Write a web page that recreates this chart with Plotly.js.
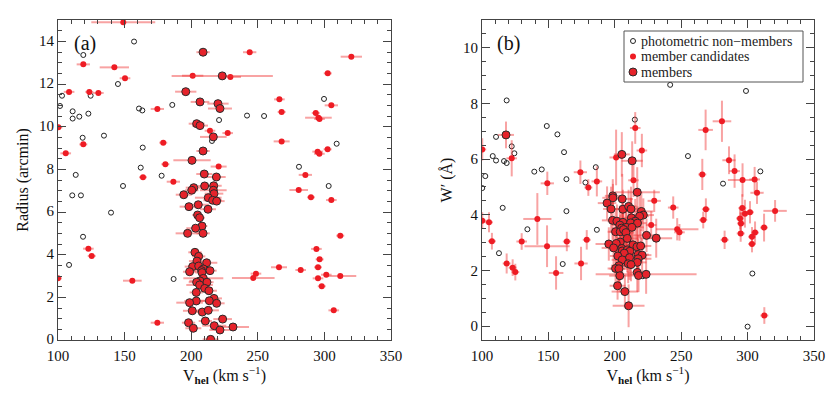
<!DOCTYPE html>
<html>
<head>
<meta charset="utf-8">
<script src="https://cdn.plot.ly/plotly-3.0.1.min.js"></script>
<style>html,body{margin:0;padding:0;background:#fff;}#chart{width:830px;height:401px;}</style>
</head>
<body>
<div id="chart"></div>
<script>
// ---------- Panel (a): Radius vs V_hel ----------
const nonMemV_a = [157.1,119,145,103,124.5,101.5,111,111,116,122.8,160.8,163.3,185.8,134.5,118.5,163.6,220.9,241.9,215.6,162.1,177.8,113.3,148.8,110.7,117.2,139.8,118.8,108.3,186.8,299.7,254.7,309.2,280.9,303.2];
const nonMemR_a = [13.99,13.36,12.0,11.45,11.45,10.97,10.72,10.38,10.47,10.61,10.85,10.76,11.02,9.58,9.48,9.02,10.31,10.52,9.33,8.08,7.70,7.74,7.22,6.78,6.78,5.97,4.84,3.52,2.86,11.3,10.5,9.2,8.12,7.22];

const candV_a = [149,119,142.3,150.3,108.3,123.5,130.3,100.3,105.8,119,174.6,179,180.6,201.1,229.4,214.1,227.4,220.6,163.8,186.6,122.8,125.3,100,155.8,174.6,243.9,320.2,302.5,266.2,305.2,267.9,293.5,295.5,296.3,267.9,302.4,294.9,296.2,285.7,280.7,289.9,305.2,311.9,294.0,296.4,265.9,282.2,295.2,248.6,246.6,301.4,311.9,295.2,298.0,307.0];
const candR_a = [14.89,12.92,12.78,12.27,11.63,11.63,11.58,9.97,8.75,9.17,10.83,9.25,8.24,12.39,12.33,9.81,9.70,8.13,7.63,7.42,4.28,3.94,2.89,2.78,0.81,13.49,13.28,12.5,11.28,11.0,10.69,10.64,10.42,10.36,9.31,8.94,8.83,8.73,7.74,7.03,6.69,6.56,4.89,4.27,3.78,3.41,3.28,3.41,3.11,2.91,3.06,3.0,2.89,2.52,1.39];
const candErrV_a = [24,5,11,4,4,3,4,3,4,3,5,3,3,8,8,4,4,6,3,5,4,3,3,7,5,5,8,3,4,5,3,3,10,4,6,3,4,4,5,7,3,4,3,4,3,6,4,3,4,16,4,12,4,3,4];

const memV_a = [208.9,223.3,195.9,206.6,220.1,221.6,204.1,206.6,216.6,208.9,200.6,209.8,218.9,210.1,201.9,200.4,216.9,216.6,217.1,194.4,212.8,216.1,219.1,205.3,198.3,212.6,204.8,206.3,208.1,203.3,197.3,208.9,202.8,205.6,204.3,211.6,201.1,205.6,209.1,207.8,214.1,198.8,208.1,209.1,206.6,204.1,211.8,206.3,210.1,213.3,203.8,217.1,213.6,203.8,198.8,219.1,200.8,208.3,212.8,223.6,210.6,198.0,217.3,231.4,201.6,221.6,214.6];
const memR_a = [13.49,12.38,11.64,11.16,11.08,10.85,10.14,10.05,9.52,8.86,8.42,7.78,7.64,7.22,7.14,7.02,7.23,7.02,6.86,6.81,6.67,6.55,6.51,6.34,6.25,6.13,5.86,5.73,5.34,5.24,5.00,5.00,4.11,3.92,3.70,3.62,3.44,3.47,3.33,3.25,3.25,3.20,3.16,2.89,2.77,2.71,2.71,2.58,2.42,2.31,2.23,1.95,1.84,1.83,1.75,1.72,1.37,1.31,1.39,0.98,0.89,0.81,0.67,0.61,0.55,0.47,0.03];
const memErrV_a = [5,38,8,7,8,9,6,6,10,5,14,6,7,5,6,5,6,10,7,6,10,7,6,8,7,6,4,4,4,7,9,5,5,5,6,8,6,8,6,7,5,5,5,15,8,6,5,10,6,6,5,6,8,9,10,6,7,6,8,7,5,5,9,12,6,8,6];

// ---------- Panel (b): W' vs V_hel ----------
const nonMemV_b = [118.6,110.6,122.4,124.4,108.1,110.6,116.6,118.6,102.5,100.2,148.8,156.8,161.8,139.4,145,163.6,177.9,185.7,215.1,241.7,298.8,255.1,309.6,281.5,115.6,134.2,112.8,163.6,160.8,186.5,221.1,303.6,300.0];
const nonMemW_b = [8.11,6.8,6.46,6.21,6.11,5.95,5.93,5.86,5.39,4.96,7.19,6.89,6.25,5.55,5.63,5.28,5.16,5.71,7.42,8.67,8.45,6.11,5.56,5.12,4.25,3.48,2.62,4.13,2.23,3.46,1.79,1.89,-0.02];

const candV_b = [100.2,122.4,149.2,174.1,180.1,186.5,201.0,215.4,220.4,214.1,268.4,280.7,265.9,286.0,290.2,296.2,305.3,307.1,100.2,105.3,107.5,118.6,123.1,125.1,129.9,141.7,149.0,155.8,163.9,174.6,178.9,229.7,244.0,247.0,248.7,227.4,268.6,266.6,282.7,296.0,294.3,298.0,301.8,295.0,294.8,305.6,303.3,303.3,312.4,320.7,312.6];
const candW_b = [6.35,6.03,5.13,5.53,4.98,5.20,6.06,7.12,6.31,5.24,7.05,7.36,5.45,5.96,5.57,5.25,5.27,4.79,3.79,3.73,3.05,2.25,2.10,1.94,3.04,3.85,2.87,1.91,3.04,2.25,3.10,4.50,4.26,3.48,3.37,3.63,4.20,3.81,3.10,4.24,3.87,4.04,4.09,3.69,3.33,3.36,3.21,2.95,3.54,4.14,0.38];
const candErrV_b = [3,4,5,5,3,4,5,4,4,4,5.5,7,3,5,4,11,4,5,3,3,3,3,3,3,4,10.6,17,5.5,3,5,3,5,4,16,4,4,3,3,3,3,3,4,3,3,3,3,3,3,3,8.8,3];
const candErrW_b = [0.4,0.65,0.42,0.42,0.3,0.54,1.0,0.57,0.6,0.6,0.73,0.74,0.56,0.5,0.6,0.6,0.45,0.4,0.3,0.36,0.3,0.36,0.3,0.3,0.3,0.93,0.75,0.6,0.35,0.6,0.35,0.4,0.4,0.4,0.3,0.5,0.39,0.3,0.33,0.5,0.4,0.5,0.4,0.4,0.3,0.4,0.35,0.3,0.5,0.39,0.3];

const memV_b = [118.1,205.3,213.1,216.9,198.5,198.6,205.6,194.2,197.2,206.1,210.4,212.2,220.0,221.5,218.7,212.5,198.3,201.6,215.4,206.1,211.9,217.1,203.8,208.6,205.1,212.9,200.6,204.1,206.6,208.4,223.9,231.2,209.4,204.1,195.5,201.1,213.7,216.7,199.1,219.5,205.3,205.6,209.4,211.4,207.1,217.6,220.6,202.3,211.1,205.6,217.6,216.9,210.1,203.1,212.2,200.6,203.1,216.9,217.9,223.6,203.8,202.1,207.6,210.4];
const memW_b = [6.87,6.17,5.94,4.81,4.68,4.61,4.57,4.42,4.21,4.20,4.30,4.21,4.12,3.99,3.95,3.89,3.80,3.77,3.77,3.73,3.71,3.70,3.63,3.55,3.52,3.55,3.39,3.39,3.47,3.36,3.26,3.16,3.15,3.02,2.95,2.97,2.92,2.85,2.81,2.88,2.79,2.70,2.74,2.69,2.62,2.57,2.55,2.52,2.46,2.38,2.42,2.29,2.24,2.17,2.21,2.07,2.06,1.93,1.82,1.86,1.81,1.45,1.24,0.73];
const memErrV_b = [6,6,8,17,6,8,8,7,6,8,6,7,9,8,7,6,8,7,6,10,8,7,6,8,7,9,6,8,7,6,10,12,8,7,10,8,9,7,9,8,10,7,8,6,7,8,7,6,9,8,10,7,8,6,7,6,7,8,6,38,8,6,10,12];
const memErrW_b = [0.48,0.8,0.7,0.9,0.6,0.5,0.9,0.6,0.8,0.7,0.6,0.8,0.7,0.6,0.8,0.7,0.7,0.6,0.8,0.7,0.9,0.6,0.7,0.8,0.6,0.7,0.8,0.6,0.7,0.9,0.6,0.7,0.7,0.8,0.6,0.7,0.6,0.8,0.7,0.6,0.7,0.6,0.8,0.7,0.6,0.7,0.6,0.7,0.8,0.6,0.7,0.6,0.7,0.8,0.6,0.7,0.6,0.7,0.6,0.7,0.6,0.5,0.6,0.77];

const legendNames = ['photometric non\u2212members','member candidates','members'];

const serif = 'Liberation Serif';
const redFill = '#ee1c24';
const memFill = '#e5232b';
const errCol = 'rgba(240,50,50,0.45)';

function errX(arr){ return {type:'data', array:arr, visible:true, color:errCol, thickness:2, width:0}; }
function errY(arr){ return {type:'data', array:arr, visible:true, color:errCol, thickness:2, width:0}; }

const nmMarker = {symbol:'circle-open', size:5, color:'#222', line:{width:1, color:'#222'}};
const cMarker = {size:6, color:redFill, line:{width:0}};
const mMarker = {size:8, color:memFill, line:{width:1, color:'#2a2a2a'}};

const traces = [
  {x:nonMemV_a, y:nonMemR_a, xaxis:'x', yaxis:'y', type:'scatter', mode:'markers', name:legendNames[0], marker:nmMarker},
  {x:candV_a, y:candR_a, xaxis:'x', yaxis:'y', type:'scatter', mode:'markers', name:legendNames[1], error_x:errX(candErrV_a), marker:cMarker},
  {x:memV_a, y:memR_a, xaxis:'x', yaxis:'y', type:'scatter', mode:'markers', name:legendNames[2], error_x:errX(memErrV_a), marker:mMarker},
  {x:nonMemV_b, y:nonMemW_b, xaxis:'x2', yaxis:'y2', type:'scatter', mode:'markers', name:legendNames[0], marker:nmMarker},
  {x:candV_b, y:candW_b, xaxis:'x2', yaxis:'y2', type:'scatter', mode:'markers', name:legendNames[1], error_x:errX(candErrV_b), error_y:errY(candErrW_b), marker:cMarker},
  {x:memV_b, y:memW_b, xaxis:'x2', yaxis:'y2', type:'scatter', mode:'markers', name:legendNames[2], error_x:errX(memErrV_b), error_y:errY(memErrW_b), marker:mMarker}
];

const baseAx = {
  showgrid:false, zeroline:false, showline:true, linecolor:'#444', linewidth:1, mirror:'allticks',
  ticks:'inside', ticklen:8, tickcolor:'#444', tickwidth:1,
  tickfont:{family:serif, size:15, color:'#111'},
};
const xTitle = {text:'V<sub><b>hel</b></sub> (km s<sup>\u22121</sup>)', font:{family:serif, size:16, color:'#111'}, standoff:4};
const minorX = {ticks:'inside', ticklen:4, tickcolor:'#444', dtick:10, showgrid:false};
const minorY = {ticks:'inside', ticklen:4, tickcolor:'#444', dtick:0.5, showgrid:false};

// legend drawn inside panel (b), paper coordinates
const PX = p => (p-58)/756, PY = p => (340-p)/320;
const legY = [41, 56.5, 72].map(PY);
const legSymX = PX(633), legTxtX = PX(640);

const shapes = [
  {type:'rect', xref:'paper', yref:'paper', x0:PX(624), x1:PX(803), y0:PY(82), y1:PY(31), line:{color:'#555', width:1}, fillcolor:'rgba(255,255,255,0.95)', layer:'above'},
  {type:'circle', xref:'paper', yref:'paper', xsizemode:'pixel', ysizemode:'pixel', xanchor:legSymX, yanchor:legY[0], x0:-2.5, x1:2.5, y0:-2.5, y1:2.5, line:{color:'#222', width:1}, fillcolor:'rgba(0,0,0,0)', layer:'above'},
  {type:'circle', xref:'paper', yref:'paper', xsizemode:'pixel', ysizemode:'pixel', xanchor:legSymX, yanchor:legY[1], x0:-3, x1:3, y0:-3, y1:3, line:{color:redFill, width:0}, fillcolor:redFill, layer:'above'},
  {type:'circle', xref:'paper', yref:'paper', xsizemode:'pixel', ysizemode:'pixel', xanchor:legSymX, yanchor:legY[2], x0:-4, x1:4, y0:-4, y1:4, line:{color:'#2a2a2a', width:1}, fillcolor:memFill, layer:'above'}
];

const annotations = [
  {text:'(a)', xref:'paper', yref:'paper', x:PX(85), y:PY(43), xanchor:'center', yanchor:'middle', showarrow:false, font:{family:serif, size:20, color:'#111'}},
  {text:'(b)', xref:'paper', yref:'paper', x:PX(508.5), y:PY(43.5), xanchor:'center', yanchor:'middle', showarrow:false, font:{family:serif, size:20, color:'#111'}}
];
legendNames.forEach((n,i) => annotations.push({text:n, xref:'paper', yref:'paper', x:legTxtX, y:legY[i], xanchor:'left', yanchor:'middle', showarrow:false, borderpad:0, font:{family:serif, size:14, color:'#222'}}));

const layout = {
  width:830, height:401,
  margin:{l:58, r:16, t:20, b:61},
  paper_bgcolor:'#fff', plot_bgcolor:'#fff',
  showlegend:false,
  xaxis:Object.assign({}, baseAx, {domain:[0,0.4405], range:[100,350], dtick:50, tick0:100, anchor:'y', minor:minorX, ticklabelstandoff:2, title:xTitle}),
  yaxis:Object.assign({}, baseAx, {domain:[0,1], range:[0,15], dtick:2, tick0:0, anchor:'x', minor:minorY, ticklabelshift:-1,
    title:{text:'Radius (arcmin)', font:{family:serif, size:16, color:'#111'}, standoff:6}}),
  xaxis2:Object.assign({}, baseAx, {domain:[0.5608,1], range:[100,350], dtick:50, tick0:100, anchor:'y2', minor:minorX, ticklabelstandoff:2, title:xTitle}),
  yaxis2:Object.assign({}, baseAx, {domain:[0,1], range:[-0.5,11], dtick:2, tick0:0, anchor:'x2', minor:minorY,
    title:{text:'W\u2032 (\u00c5)', font:{family:serif, size:16, color:'#111'}, standoff:6}}),
  shapes:shapes,
  annotations:annotations
};

Plotly.newPlot('chart', traces, layout, {staticPlot:true, displayModeBar:false});
</script>
</body>
</html>
